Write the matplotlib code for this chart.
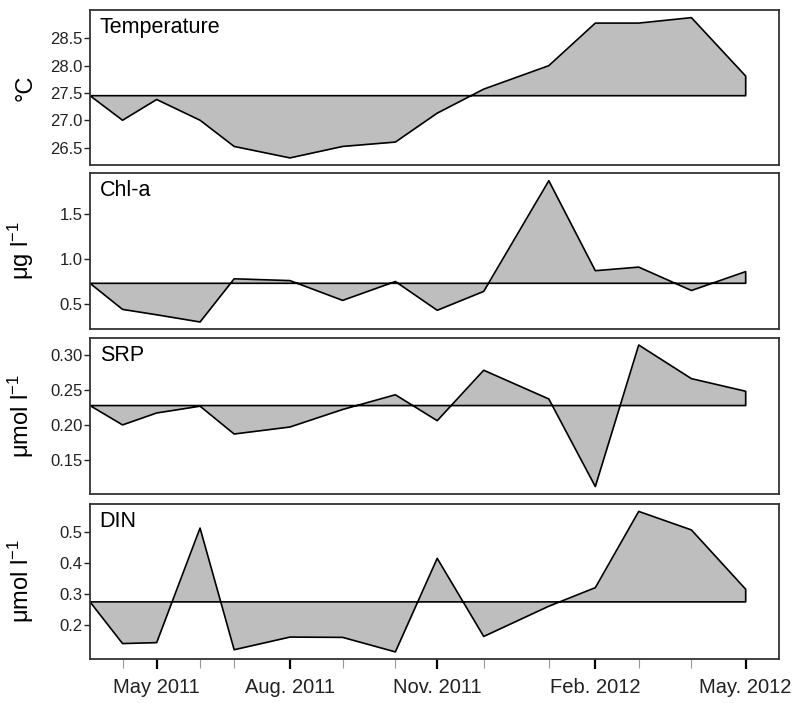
import numpy as np
import pandas as pd
import matplotlib
matplotlib.use("Agg")
import matplotlib.pyplot as plt
import matplotlib.dates as mdates

plt.rcParams['font.family'] = ['Liberation Sans', 'DejaVu Sans']
plt.rcParams['mathtext.default'] = 'regular'

# sampling dates
dates = ['2011-03-20', '2011-04-10', '2011-05-02', '2011-05-30', '2011-06-21',
         '2011-07-27', '2011-08-30', '2011-10-03', '2011-10-30', '2011-11-29',
         '2012-01-10', '2012-02-09', '2012-03-08', '2012-04-11', '2012-05-16']
major_idx = [2, 5, 8, 11, 14]
major_labels = ['May 2011', 'Aug. 2011', 'Nov. 2011', 'Feb. 2012', 'May. 2012']

temperature = [27.45, 27.0, 27.38, 27.0, 26.52, 26.31, 26.52, 26.6, 27.13, 27.57,
               28.0, 28.78, 28.78, 28.88, 27.81]
chla = [0.73, 0.44, 0.38, 0.30, 0.78, 0.76, 0.54, 0.75, 0.43, 0.64,
        1.87, 0.87, 0.91, 0.65, 0.86]
srp = [0.2276, 0.200, 0.217, 0.2267, 0.187, 0.197, 0.222, 0.243, 0.206, 0.278,
       0.237, 0.112, 0.314, 0.266, 0.248]
din = [0.274, 0.139, 0.142, 0.513, 0.119, 0.160, 0.159, 0.112, 0.415, 0.162,
       0.26, 0.320, 0.567, 0.507, 0.315]

names = ['Temperature', 'Chl-a', 'SRP', 'DIN']
units = ['°C', 'μg l$^{-1}$', 'μmol l$^{-1}$', 'μmol l$^{-1}$']
baselines = [27.45, 0.73, 0.2276, 0.274]
yticks = [[26.5, 27.0, 27.5, 28.0, 28.5], [0.5, 1.0, 1.5],
          [0.15, 0.20, 0.25, 0.30], [0.2, 0.3, 0.4, 0.5]]
ylims = [(26.18, 29.02), (0.222, 1.956), (0.1014, 0.324), (0.089, 0.591)]
yfmt = ['%.1f', '%.1f', '%.2f', '%.1f']

x = mdates.date2num(pd.to_datetime(dates))
series = [temperature, chla, srp, din]

fig = plt.figure(figsize=(8.03, 7.03), dpi=100)

# panel boxes in pixels from top: (top, bottom)
boxes = [(10, 165), (173, 329), (338, 494), (504, 659)]
W, H = 803.0, 703.0

for i, (top, bot) in enumerate(boxes):
    ax = fig.add_axes([90 / W, 1 - bot / H, (779 - 90) / W, (bot - top) / H])
    y = np.array(series[i])
    base = baselines[i]
    ax.fill_between(x, y, base, color='#bebebe', lw=0)
    # outline: the series, then down to the baseline and back along it
    ax.plot(np.r_[x, x[-1], x[0]], np.r_[y, base, base], color='black', lw=1.2)

    ax.set_xlim(x[0], x[0] + 444.5)
    ax.set_ylim(*ylims[i])
    ax.set_yticks(yticks[i])
    ax.set_yticklabels([yfmt[i] % v for v in yticks[i]])
    ax.tick_params(axis='y', labelsize=12, length=4, width=1, pad=1.5,
                   colors='#222222')
    ax.set_ylabel(units[i], fontsize=17)
    ax.yaxis.set_label_coords(-0.078, 0.5)
    ax.text(0.014, 0.955, names[i], transform=ax.transAxes, fontsize=15.5,
            ha='left', va='top')
    for s in ax.spines.values():
        s.set_color('#333333')
        s.set_linewidth(1.3)

    if i < 3:
        ax.set_xticks([])
    else:
        ax.set_xticks(x[major_idx])
        ax.set_xticklabels(major_labels)
        minor = [x[k] for k in range(1, len(x)) if k not in major_idx]
        ax.set_xticks(minor, minor=True)
        ax.tick_params(axis='x', which='major', labelsize=14.5, length=7,
                       width=1.6, pad=7, color='black', labelcolor='#222222')
        ax.tick_params(axis='x', which='minor', length=6.5, width=0.8,
                       color='#999999')

fig.savefig('out.png', dpi=100)
